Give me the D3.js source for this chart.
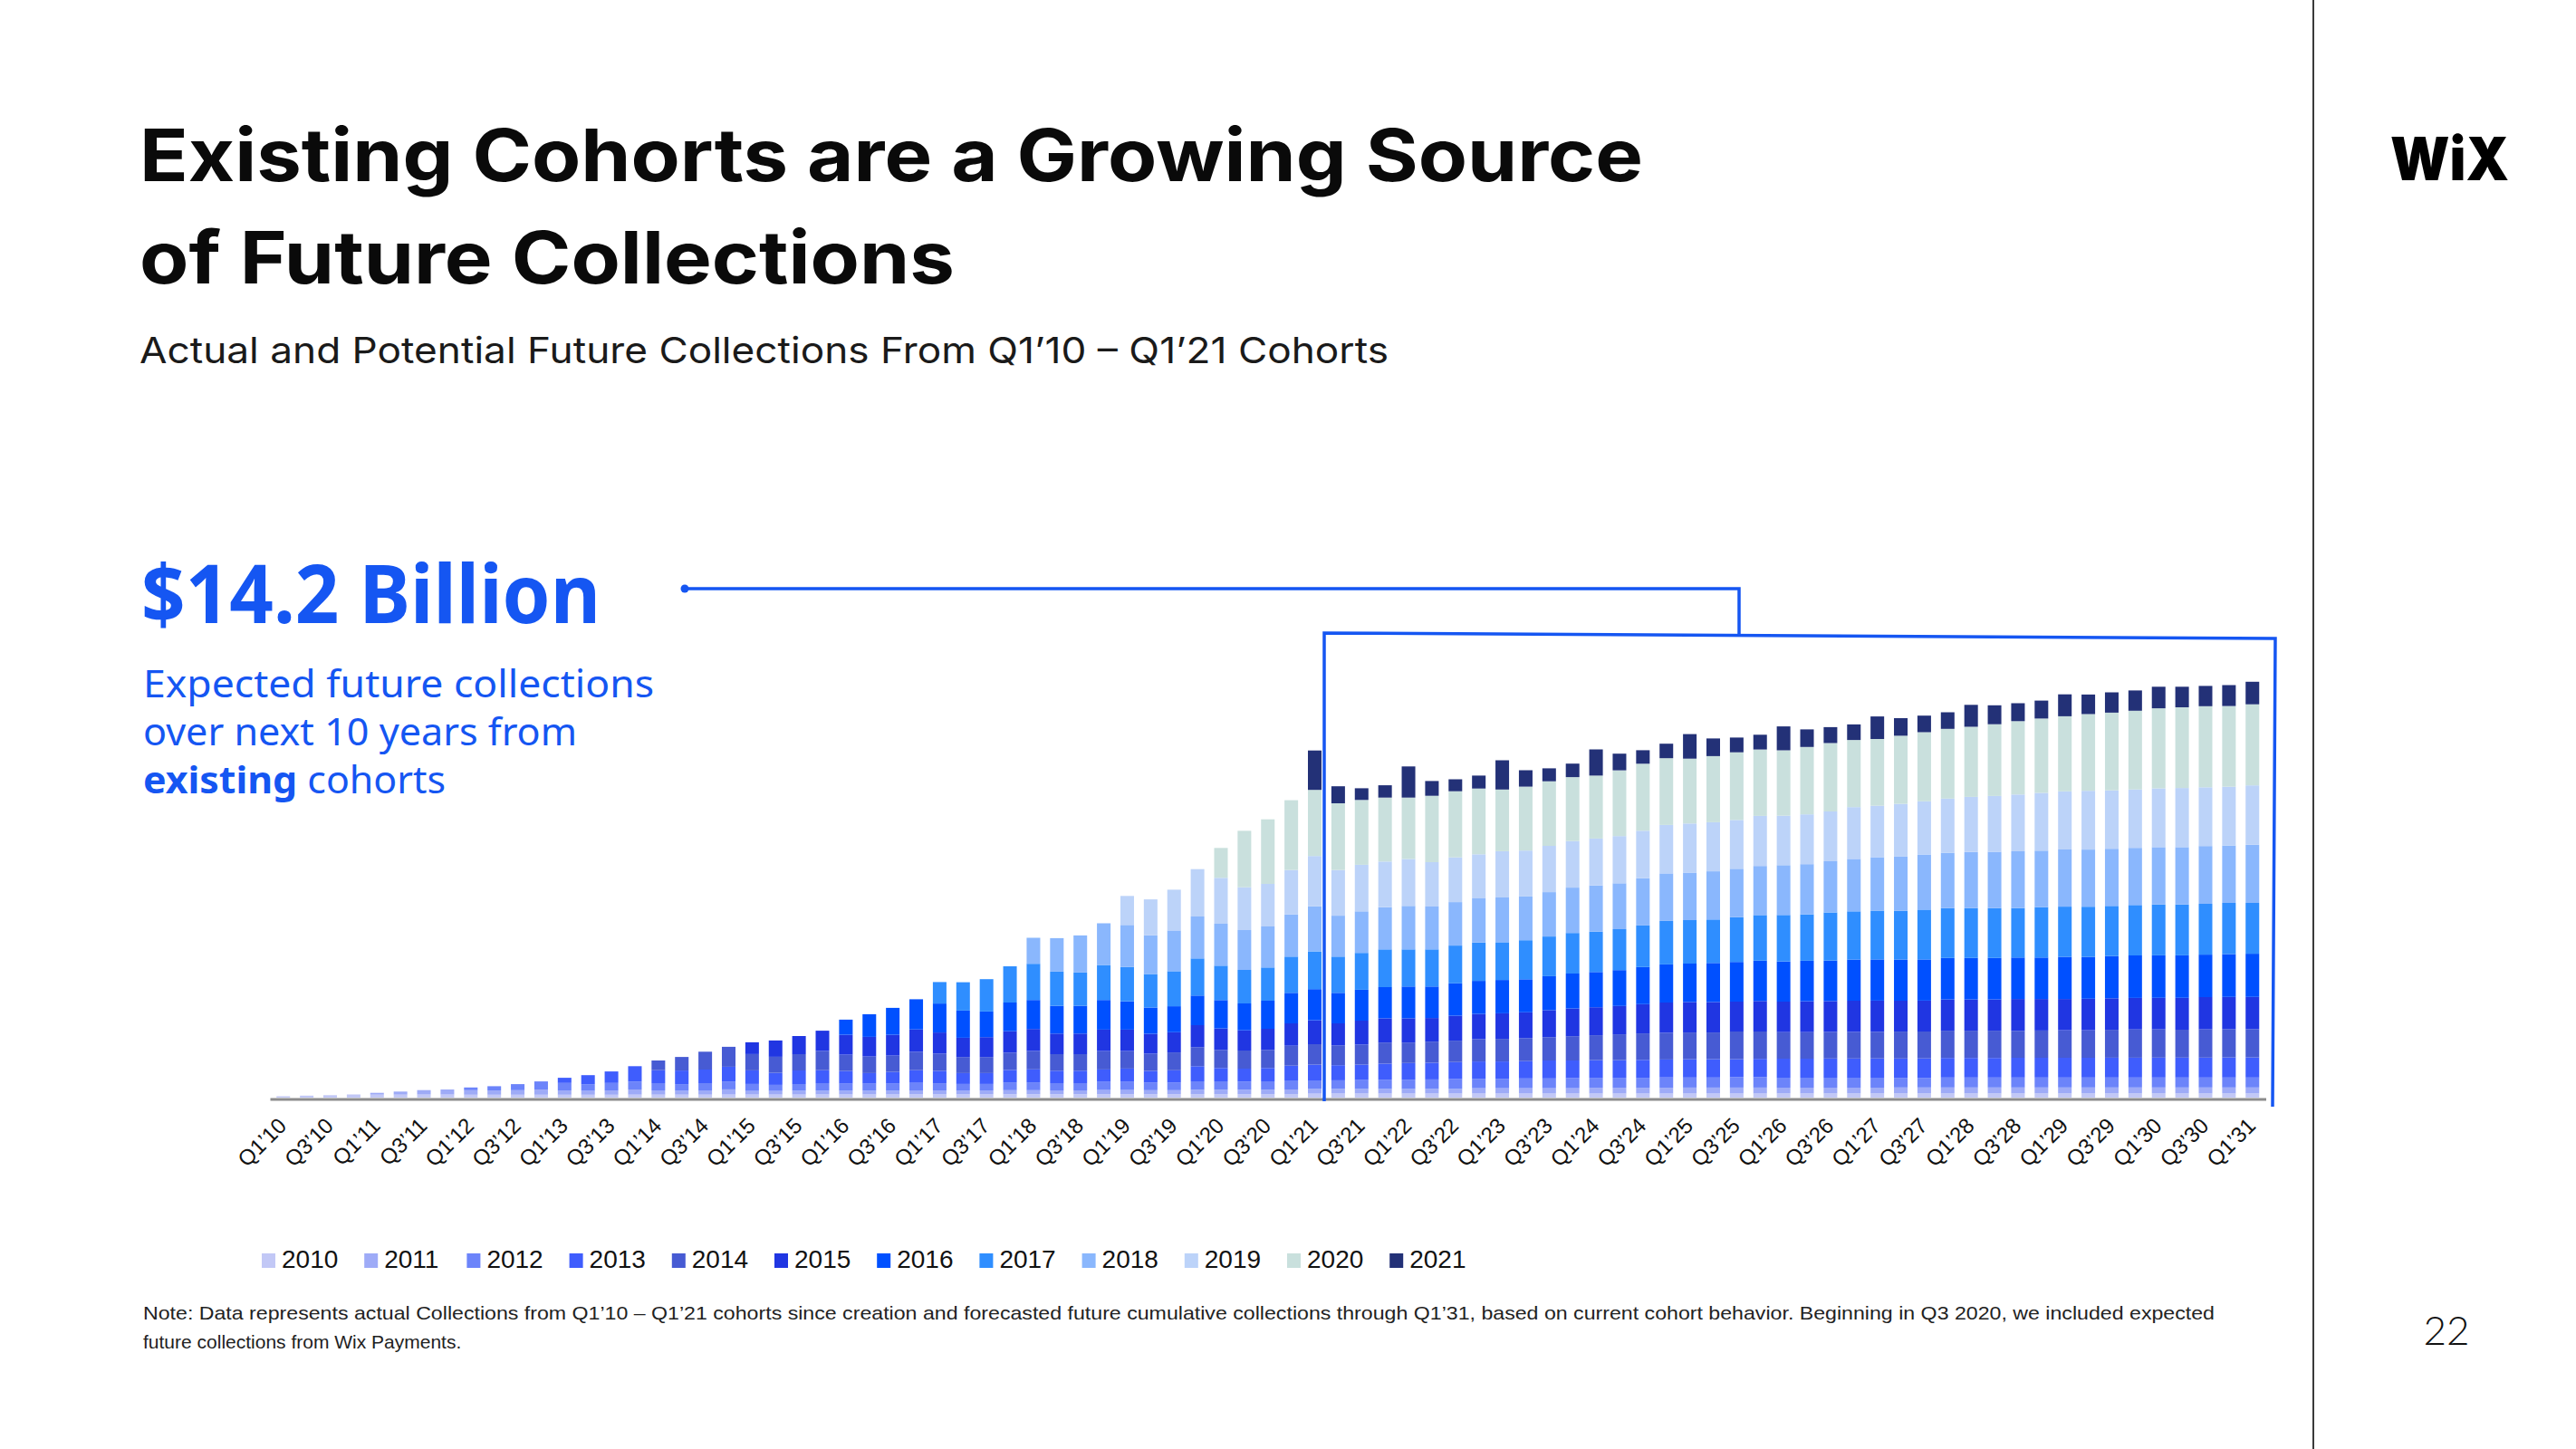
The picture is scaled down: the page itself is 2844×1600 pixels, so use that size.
<!DOCTYPE html>
<html><head><meta charset="utf-8">
<script src="https://cdn.jsdelivr.net/npm/d3@7"></script>
<style>
html,body{margin:0;padding:0;background:#fff;}
svg{display:block;}
</style></head>
<body>
<svg id="chart" width="2844" height="1600"></svg>
<script>
// ---------- DATA ----------
const categories = ["Q1'10","Q2'10","Q3'10","Q4'10","Q1'11","Q2'11","Q3'11","Q4'11","Q1'12","Q2'12","Q3'12","Q4'12",
"Q1'13","Q2'13","Q3'13","Q4'13","Q1'14","Q2'14","Q3'14","Q4'14","Q1'15","Q2'15","Q3'15","Q4'15",
"Q1'16","Q2'16","Q3'16","Q4'16","Q1'17","Q2'17","Q3'17","Q4'17","Q1'18","Q2'18","Q3'18","Q4'18",
"Q1'19","Q2'19","Q3'19","Q4'19","Q1'20","Q2'20","Q3'20","Q4'20","Q1'21","Q2'21","Q3'21","Q4'21",
"Q1'22","Q2'22","Q3'22","Q4'22","Q1'23","Q2'23","Q3'23","Q4'23","Q1'24","Q2'24","Q3'24","Q4'24",
"Q1'25","Q2'25","Q3'25","Q4'25","Q1'26","Q2'26","Q3'26","Q4'26","Q1'27","Q2'27","Q3'27","Q4'27",
"Q1'28","Q2'28","Q3'28","Q4'28","Q1'29","Q2'29","Q3'29","Q4'29","Q1'30","Q2'30","Q3'30","Q4'30","Q1'31"];

const tickLabels = ["Q1’10","Q3’10","Q1’11","Q3’11","Q1’12","Q3’12","Q1’13","Q3’13","Q1’14","Q3’14","Q1’15","Q3’15",
"Q1’16","Q3’16","Q1’17","Q3’17","Q1’18","Q3’18","Q1’19","Q3’19","Q1’20","Q3’20","Q1’21","Q3’21",
"Q1’22","Q3’22","Q1’23","Q3’23","Q1’24","Q3’24","Q1’25","Q3’25","Q1’26","Q3’26","Q1’27","Q3’27",
"Q1’28","Q3’28","Q1’29","Q3’29","Q1’30","Q3’30","Q1’31"];

const cohortYears = ["2010","2011","2012","2013","2014","2015","2016","2017","2018","2019","2020","2021"];

// each cohort series starts at the first quarter of its year
const c2010 = [1.5,2.2,2.7,3.5, 3.3,3.3,3.4,3.4, 3.2,3.2,3.2,3.2, 3.2,3.2,3.2,3.3, 3.3,3.3,3.3,3.4,
 3.4,3.4,3.4,3.5, 3.5,3.5,3.5,3.6, 3.6,3.6,3.6,3.7, 3.7,3.7,3.7,3.8, 3.8,3.8,3.8,3.9, 3.9,3.9,3.9,4.0,
 4.4,4.5,4.5,4.5, 4.5,4.5,4.5,4.5, 4.5,4.5,4.5,4.5, 4.5,4.5,4.5,4.5, 4.5,4.5,4.5,4.5,
 4.6,4.6,4.6,4.6, 4.6,4.6,4.6,4.6, 4.6,4.6,4.6,4.6, 4.6,4.6,4.6,4.6, 4.6,4.6,4.6,4.6, 4.6];
const c2011 = [2.0,3.4,4.9,5.6, 5.0,4.7,5.0,5.7, 4.7,4.3,4.7,5.7, 4.7,4.3,4.7,5.7, 4.0,4.0,4.3,4.2,
 4.2,4.2,4.2,4.4, 4.3,4.2,4.2,4.5, 4.5,4.3,4.3,4.6, 4.6,4.4,4.4,4.8, 4.8,4.8,4.8,5.0,
 5.2,5.2,5.2,5.2, 5.2,5.2,5.2,5.9, 5.9,5.9,5.9,5.9, 6.3,6.3,6.3,6.3, 6.6,6.6,6.6,6.6,
 6.4,6.4,6.4,6.4, 6.4,6.6,6.6,6.6, 6.6,6.6,6.6,6.6, 6.6,6.6,6.6,6.6, 6.6,6.6,6.6,6.6, 6.6];
const c2012 = [3.0,4.7,6.7,9.0, 8.3,7.3,8.3,8.7, 8.0,7.3,8.0,8.7, 7.7,6.7,7.3,8.3, 7.7,7.7,7.7,8.3,
 8.0,7.3,7.3,8.7, 8.7,8.0,8.0,9.0, 9.0,8.3,8.3,9.3, 9.3,9.0,9.3,10.0,
 9.4,9.4,9.7,10.1, 10.1,10.4,10.8,10.4, 10.4,10.8,10.8,11.1, 11.1,11.1,11.1,11.5, 11.1,11.1,11.5,11.5,
 11.0,11.0,11.0,11.0, 11.0,10.6,10.6,11.0, 11.0,11.0,11.0,11.0, 11.0,11.0,11.0,11.0, 11.0,11.0,11.0,11.0, 11.0];
const c2013 = [5.7,10.0,12.7,17.0, 14.3,15.0,15.0,16.3, 15.0,13.3,15.0,14.3, 14.0,11.7,13.0,14.0,
 13.7,12.0,12.0,13.7, 14.3,13.7,13.7,13.7, 14.7,13.0,13.7,16.7, 14.7,14.3,14.7,16.3,
 17.4,16.7,17.0,17.7, 18.4,18.4,18.8,19.1, 19.1,19.1,19.8,19.5, 19.5,19.5,19.8,19.8, 20.2,20.2,19.8,20.2,
 21.0,21.0,21.2,21.2, 21.3,21.4,21.5,21.6, 21.6,21.6,21.8,21.8, 21.8,21.8,21.9,21.9, 22.0,22.0,22.0,22.2, 22.2];
const c2014 = [10.7,15.0,19.7,22.0, 18.0,17.7,18.0,21.3, 18.0,18.3,18.0,20.3, 19.0,17.7,17.7,19.0,
 20.3,18.3,18.3,20.3, 19.3,19.0,19.7,21.0, 20.0,20.0,20.0,22.0,
 22.6,21.9,22.2,23.3, 22.6,23.3,23.6,24.7, 25.0,25.4,25.7,26.8, 27.5,28.5,29.2,29.5, 29.5,29.5,30.6,30.2,
 29.3,29.3,29.3,29.3, 29.3,29.7,29.7,30.1, 30.1,30.1,29.7,30.1, 30.4,30.4,30.8,31.2, 31.2,30.8,31.2,31.2, 31.2];
const c2015 = [13.0,18.0,20.0,22.3, 22.0,21.7,23.0,24.7, 23.3,21.3,22.0,23.7, 24.3,22.7,22.7,23.7,
 23.7,22.0,22.3,24.3, 23.7,22.3,23.3,24.7,
 26.4,24.3,26.4,26.8, 26.8,26.1,27.5,27.8, 28.2,28.5,29.9,30.6, 30.9,31.3,32.3,33.4, 33.7,33.7,33.0,33.7,
 33.7,34.1,34.1,34.5, 34.5,34.1,34.1,34.5, 34.5,34.5,35.2,34.8, 34.5,34.8,34.8,34.8, 34.8,35.2,35.6,35.6, 35.6];
const c2016 = [16.7,25.0,29.7,33.3, 32.0,30.0,28.3,31.7, 32.0,30.7,30.7,32.7, 31.3,29.0,28.7,32.7,
 31.3,29.7,31.0,33.7,
 34.4,33.7,34.1,34.4, 35.1,34.8,35.8,36.5, 36.8,36.5,37.5,38.6, 38.9,39.6,41.0,42.1, 42.4,43.1,43.8,44.5,
 44.4,44.7,44.7,45.5, 45.5,45.5,45.5,45.8, 45.8,45.8,45.8,45.8, 46.6,46.2,46.6,46.9, 46.9,46.9,46.9,47.3, 47.7];
const c2017 = [23.7,31.3,35.7,40.0, 40.0,37.7,36.7,38.7, 38.0,37.0,38.7,41.0, 38.0,37.0,36.7,40.0,
 41.7,40.0,40.7,41.7, 41.0,41.0,41.7,42.4, 41.7,43.1,43.8,44.8, 44.5,45.2,45.9,48.0, 48.0,48.0,49.4,50.4,
 51.3,51.3,53.2,53.2, 53.9,53.9,55.0,55.0, 55.0,55.0,54.6,55.7, 55.4,55.4,55.4,55.7, 56.1,56.1,56.1,56.5, 56.1];
const c2018 = [28.7,37.0,41.0,46.0, 46.3,42.7,45.0,46.3, 46.3,44.0,45.3,46.7,
 49.7,45.2,45.9,46.6, 48.0,47.3,48.0,48.7, 49.4,48.3,49.0,50.1, 51.1,50.7,52.1,52.5, 52.5,53.2,53.5,54.2,
 55.0,55.4,56.5,57.9, 59.0,60.1,60.9,61.2, 62.0,62.3,62.7,62.3, 63.1,63.1,63.1,63.1, 63.4,63.4,63.8,63.4, 64.2];
const c2019 = [32.0,39.7,45.0,52.3, 50.7,47.3,47.0,49.0,
 55.6,50.4,51.4,50.4, 51.8,49.0,49.4,48.7, 51.1,50.7,51.1,51.4, 51.8,52.1,52.5,53.5, 54.2,54.2,53.9,55.3,
 54.6,55.0,55.0,57.2, 56.8,57.9,58.7,59.8, 60.9,61.6,62.7,63.8, 64.2,64.9,64.5,64.5, 64.9,65.3,64.9,64.9, 65.6];
const c2020 = [33.0,62.3,71.3,77.0,
 73.0,73.7,71.6,70.6, 67.8,73.3,73.0,72.6, 68.1,70.6,71.3,70.6, 69.5,72.6,74.0,73.7, 71.6,73.0,74.7,73.3,
 72.2,74.4,75.5,74.1, 73.7,75.2,76.3,77.0, 77.4,79.2,81.0,82.1, 82.9,84.7,85.8,86.9, 88.4,89.1,89.5,89.1, 89.5];
const c2021 = [43.5,18.8,12.9,13.6, 34.4,16.3,13.2,14.3, 32.3,18.1,14.3,14.9, 28.9,18.4,14.9,16.0, 27.1,19.5,16.3,16.3,
 26.4,19.4,17.6,17.2, 24.9,19.4,18.3,18.3, 24.2,20.9,19.8,19.8, 24.2,21.6,22.4,22.4, 23.8,22.7,22.4,23.1, 24.9];

const cohortSeries = [c2010,c2011,c2012,c2013,c2014,c2015,c2016,c2017,c2018,c2019,c2020,c2021];
const cohortColors = ["#c2c8f6","#9eabf7","#6c84fa","#3f5dfd","#475bd3","#2036e2","#0050ff","#2f8eff","#8ab7fd","#bcd3f9","#c9e0dd","#233177"];

// ---------- BUILD TABLE ----------
const table = categories.map((c,i)=>{
  const row = {cat:c};
  cohortYears.forEach((yr,k)=>{
    const start = k*4;
    row[yr] = i>=start ? cohortSeries[k][i-start] : 0;
  });
  return row;
});

const svg = d3.select("#chart");
svg.append("rect").attr("width",2844).attr("height",1600).attr("fill","#fff");

const blue = "#1556f2";

// ---------- SCALES ----------
const x = d3.scaleBand().domain(categories).range([298, 2501.5]).paddingInner(0.42).paddingOuter(0.28);
const y = d3.scaleLinear().domain([0, 460]).range([1212, 752]);

const stack = d3.stack().keys(cohortYears);
const series = stack(table);

const gBars = svg.append("g");
series.forEach((s,k)=>{
  gBars.append("g").attr("fill", cohortColors[k])
    .selectAll("rect").data(s.filter(d=>d[1]-d[0]>0)).join("rect")
    .attr("x", d=>x(d.data.cat))
    .attr("width", x.bandwidth())
    .attr("y", d=>y(d[1]))
    .attr("height", d=>y(d[0])-y(d[1]));
});

// ---------- AXIS ----------
const tickCats = categories.filter((c,i)=>i%2===0);
const axis = d3.axisBottom(x).tickValues(tickCats).tickSize(0)
  .tickFormat((d,i)=>tickLabels[i]);
const gAxis = svg.append("g").attr("transform","translate(0,1213.5)").call(axis);
gAxis.select(".domain").attr("stroke","#8c8c8c").attr("stroke-width",3);
gAxis.selectAll(".tick text")
  .attr("font-family","'Liberation Sans', Arial, sans-serif")
  .attr("font-size",24).attr("fill","#111")
  .attr("text-anchor","end").attr("x",5).attr("y",31).attr("dy",0)
  .attr("transform","rotate(-45,5,31)");

// ---------- BRACKET / CONNECTOR ----------
const gB = svg.append("g").attr("fill","none").attr("stroke",blue).attr("stroke-width",3.5);
gB.append("path").attr("d","M1462,1216 L1462,699 L2512,705 L2509,1222");
gB.append("path").attr("d","M756,650 L1920,650 L1920,702");
svg.append("circle").attr("cx",756).attr("cy",650).attr("r",4.5).attr("fill",blue);

// ---------- TEXTS ----------
const tf = "Inter, 'Noto Sans', sans-serif";
svg.append("text").attr("x",154).attr("y",200).attr("font-family",tf).attr("font-weight",700)
  .attr("font-size",80).attr("fill","#0a0a0a").attr("textLength",1660).attr("lengthAdjust","spacingAndGlyphs")
  .text("Existing Cohorts are a Growing Source");
svg.append("text").attr("x",154).attr("y",313).attr("font-family",tf).attr("font-weight",700)
  .attr("font-size",80).attr("fill","#0a0a0a").attr("textLength",900).attr("lengthAdjust","spacingAndGlyphs")
  .text("of Future Collections");
svg.append("text").attr("x",154).attr("y",401).attr("font-family",tf).attr("font-weight",400)
  .attr("font-size",40).attr("fill","#1a1a1a").attr("textLength",1379).attr("lengthAdjust","spacingAndGlyphs")
  .text("Actual and Potential Future Collections From Q1’10 – Q1’21 Cohorts");

const bf = "'Noto Sans', 'Open Sans', sans-serif";
svg.append("text").attr("x",156).attr("y",688).attr("font-family",bf).attr("font-weight",700)
  .attr("font-size",90).attr("fill",blue).attr("textLength",507).attr("lengthAdjust","spacingAndGlyphs")
  .text("$14.2 Billion");
svg.append("text").attr("x",158).attr("y",770).attr("font-family",bf).attr("font-size",41).attr("fill",blue)
  .attr("textLength",564).attr("lengthAdjust","spacingAndGlyphs").text("Expected future collections");
svg.append("text").attr("x",158).attr("y",823).attr("font-family",bf).attr("font-size",41).attr("fill",blue)
  .attr("textLength",479).attr("lengthAdjust","spacingAndGlyphs").text("over next 10 years from");
const t3 = svg.append("text").attr("x",158).attr("y",876).attr("font-family",bf).attr("font-size",41).attr("fill",blue)
  .attr("textLength",334).attr("lengthAdjust","spacingAndGlyphs");
t3.append("tspan").attr("font-weight",700).text("existing");
t3.append("tspan").text(" cohorts");

// ---------- LEGEND ----------
const gL = svg.append("g");
cohortYears.forEach((yr,k)=>{
  const lx = 289 + k*113.2;
  gL.append("rect").attr("x",lx).attr("y",1384).attr("width",15).attr("height",16).attr("fill",cohortColors[k]);
  gL.append("text").attr("x",lx+22).attr("y",1400).attr("font-family","'Liberation Sans', Arial, sans-serif")
    .attr("font-size",28).attr("fill","#111").text(yr);
});

// ---------- NOTE ----------
const nf = "'Liberation Sans', Arial, sans-serif";
svg.append("text").attr("x",158).attr("y",1457).attr("font-family",nf).attr("font-size",21).attr("fill","#222")
  .attr("textLength",2287).attr("lengthAdjust","spacingAndGlyphs")
  .text("Note: Data represents actual Collections from Q1’10 – Q1’21 cohorts since creation and forecasted future cumulative collections through Q1’31, based on current cohort behavior. Beginning in Q3 2020, we included expected");
svg.append("text").attr("x",158).attr("y",1489).attr("font-family",nf).attr("font-size",21).attr("fill","#222")
  .text("future collections from Wix Payments.");

// ---------- RIGHT PANEL ----------
svg.append("line").attr("x1",2554).attr("x2",2554).attr("y1",0).attr("y2",1600).attr("stroke","#3a3a3a").attr("stroke-width",2);
svg.append("text").attr("x",2639).attr("y",199).attr("font-family","Inter, sans-serif").attr("font-weight",900)
  .attr("font-size",66).attr("fill","#000").attr("textLength",131).attr("lengthAdjust","spacingAndGlyphs").text("WiX");
svg.append("text").attr("x",2701).attr("y",1485).attr("text-anchor","middle").attr("font-family","Lato, 'Open Sans', sans-serif")
  .attr("font-weight",300).attr("font-size",44).attr("fill","#111").text("22");
</script>
</body></html>
